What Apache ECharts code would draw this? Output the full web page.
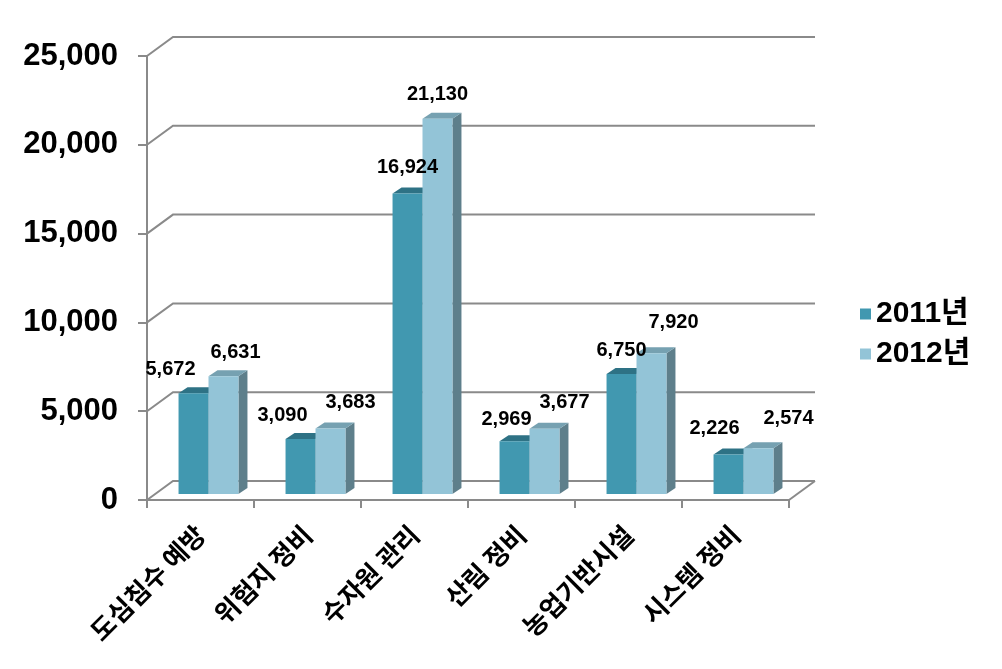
<!DOCTYPE html>
<html>
<head>
<meta charset="utf-8">
<script src="https://cdn.jsdelivr.net/npm/echarts@6/dist/echarts.min.js"></script>
<style>
html,body{margin:0;padding:0;background:#fff;}
#chart{width:1002px;height:669px;}
</style>
</head>
<body>
<div id="chart"></div>
<script>
// ---- data ----
const categories = ['도심침수 예방', '위험지 정비', '수자원 관리', '산림 정비', '농업기반시설', '시스템 정비'];
const seriesNames = ['2011년', '2012년'];
const values2011 = [5672, 3090, 16924, 2969, 6750, 2226];
const values2012 = [6631, 3683, 21130, 3677, 7920, 2574];
const yTicks = [0, 5000, 10000, 15000, 20000, 25000];

// ---- label nudges (placement only) ----
const nudge2011 = [[-23, -24], [-18, -24], [0, -26], [-8, -22], [0, -24], [-14, -26]];
const nudge2012 = [[12, -24], [20, -26], [0, -24], [20, -26], [22, -31], [30, -30]];

// ---- styles ----
const WALL_DX = 26, WALL_DY = -19;   // 3D wall depth
const BAR_SX = 8, BAR_SY = -6;       // bar placement inside depth
const BAR_DX = 9, BAR_DY = -6;       // bar own depth
const GRID_COLOR = '#8a8a8a';
const styles = [
  { front: '#4198B0', top: '#2E7285', side: '#2A6878' },
  { front: '#93C4D7', top: '#76A1B1', side: '#5E7F8B' }
];

function fmt(n) {
  return String(n).replace(/\B(?=(\d{3})+(?!\d))/g, ',');
}

function barGeom(si, params, api) {
  const idx = api.value(0);
  const val = api.value(1);
  const base = api.coord([idx, 0]);
  const topP = api.coord([idx, val]);
  const band = api.size([1, 0])[0];
  const bw = band * 0.28;
  const left = base[0] + BAR_SX + (si === 0 ? -bw : 0);
  return { val: val, left: left, bw: bw, by: base[1] + BAR_SY, ty: topP[1] + BAR_SY };
}

function wallRender(params, api) {
  const cs = params.coordSys;
  const v = api.value(1);
  const y = api.coord([0, v])[1];
  const x0 = cs.x, x1 = cs.x + cs.width;
  const lineStyle = { stroke: GRID_COLOR, lineWidth: 2, fill: null };
  const children = [{
    type: 'polyline',
    shape: { points: [[x0, y], [x0 + WALL_DX, y + WALL_DY], [x1 + WALL_DX, y + WALL_DY]] },
    style: lineStyle
  }];
  if (v === 0) {
    children.push({
      type: 'line',
      shape: { x1: x1, y1: y, x2: x1 + WALL_DX, y2: y + WALL_DY },
      style: lineStyle
    });
  }
  return { type: 'group', children: children };
}

function makeBarRender(si) {
  const st = styles[si];
  return function (params, api) {
    const g = barGeom(si, params, api);
    const left = g.left, bw = g.bw, ty = g.ty, by = g.by;
    return {
      type: 'group',
      children: [
        {
          type: 'polygon',
          shape: { points: [[left + bw, ty], [left + bw + BAR_DX, ty + BAR_DY], [left + bw + BAR_DX, by + BAR_DY], [left + bw, by]] },
          style: { fill: st.side }
        },
        {
          type: 'polygon',
          shape: { points: [[left, ty], [left + bw, ty], [left + bw + BAR_DX, ty + BAR_DY], [left + BAR_DX, ty + BAR_DY]] },
          style: { fill: st.top }
        },
        {
          type: 'rect',
          shape: { x: left, y: ty, width: bw, height: by - ty },
          style: { fill: st.front }
        }
      ]
    };
  };
}

function makeLabelRender(si, nudges) {
  return function (params, api) {
    const g = barGeom(si, params, api);
    const nd = nudges[params.dataIndex];
    return {
      type: 'text',
      style: {
        x: g.left + g.bw / 2 + nd[0],
        y: g.ty + nd[1],
        text: fmt(g.val),
        textAlign: 'center',
        textVerticalAlign: 'middle',
        fill: '#000',
        font: 'bold 20px "Liberation Sans", Arial, sans-serif'
      }
    };
  };
}

const chart = echarts.init(document.getElementById('chart'), null, { renderer: 'canvas' });

const data2011 = values2011.map(function (v, i) { return [i, v]; });
const data2012 = values2012.map(function (v, i) { return [i, v]; });

const option = {
  backgroundColor: '#ffffff',
  animation: false,
  color: [styles[0].front, styles[1].front],
  grid: { left: 147, top: 56, width: 642, bottom: 169, containLabel: false },
  legend: {
    orient: 'vertical',
    left: 855,
    top: 294,
    itemWidth: 11,
    itemHeight: 11,
    itemGap: 10,
    icon: 'rect',
    data: seriesNames,
    textStyle: {
      fontSize: 30,
      fontWeight: 'bold',
      color: '#000',
      fontFamily: '"Liberation Sans", "Noto Sans CJK KR", sans-serif'
    }
  },
  xAxis: {
    type: 'category',
    data: categories,
    boundaryGap: true,
    axisLine: { show: true, lineStyle: { color: GRID_COLOR, width: 2 } },
    axisTick: { show: true, interval: 0, length: 8, lineStyle: { color: GRID_COLOR, width: 2 } },
    axisLabel: {
      interval: 0,
      rotate: 45,
      margin: 30,
      color: '#000',
      fontSize: 26,
      fontWeight: 'bold',
      fontFamily: '"Noto Sans CJK KR", sans-serif'
    },
    splitLine: { show: false }
  },
  yAxis: {
    type: 'value',
    min: 0,
    max: 25000,
    interval: 5000,
    axisLine: { show: true, lineStyle: { color: GRID_COLOR, width: 2 } },
    axisTick: { show: true, length: 9, lineStyle: { color: GRID_COLOR, width: 2 } },
    axisLabel: {
      margin: 29,
      color: '#000',
      fontSize: 31,
      fontWeight: 'bold',
      fontFamily: '"Liberation Sans", Arial, sans-serif',
      formatter: function (v) { return fmt(v); }
    },
    splitLine: { show: false }
  },
  series: [
    {
      type: 'custom',
      name: 'wall',
      z: 1,
      silent: true,
      renderItem: wallRender,
      encode: { x: 0, y: 1 },
      data: yTicks.map(function (t) { return [0, t]; })
    },
    {
      type: 'custom',
      name: seriesNames[0],
      z: 2,
      itemStyle: { color: styles[0].front },
      renderItem: makeBarRender(0),
      encode: { x: 0, y: 1 },
      data: data2011
    },
    {
      type: 'custom',
      name: seriesNames[1],
      z: 3,
      itemStyle: { color: styles[1].front },
      renderItem: makeBarRender(1),
      encode: { x: 0, y: 1 },
      data: data2012
    },
    {
      type: 'custom',
      name: 'labels2011',
      z: 5,
      silent: true,
      renderItem: makeLabelRender(0, nudge2011),
      encode: { x: 0, y: 1 },
      data: data2011
    },
    {
      type: 'custom',
      name: 'labels2012',
      z: 5,
      silent: true,
      renderItem: makeLabelRender(1, nudge2012),
      encode: { x: 0, y: 1 },
      data: data2012
    }
  ]
};

chart.setOption(option);
</script>
</body>
</html>
